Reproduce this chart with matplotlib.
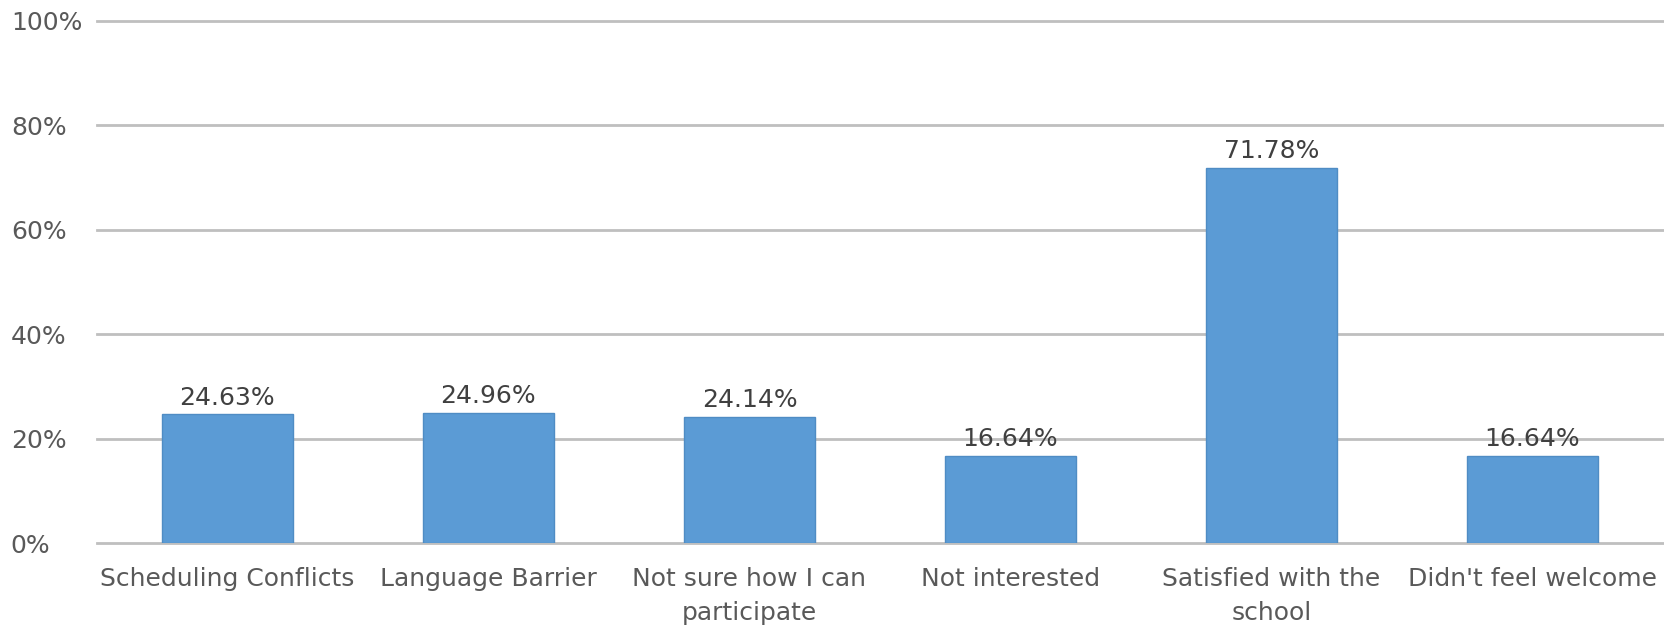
import matplotlib
matplotlib.use('Agg')
import matplotlib.pyplot as plt
from matplotlib.ticker import FixedLocator


categories = [
    'Scheduling Conflicts',
    'Language Barrier',
    'Not sure how I can\nparticipate',
    'Not interested',
    'Satisfied with the\nschool',
    "Didn't feel welcome",
]
values = [24.63, 24.96, 24.14, 16.64, 71.78, 16.64]
yticks = [0, 20, 40, 60, 80, 100]

plt.rcParams['font.family'] = ['DejaVu Sans']

fig = plt.figure(figsize=(16.65, 6.3), dpi=100)
ax = fig.add_axes([0.0582, 0.138, 0.9406, 0.8287])

x = list(range(len(categories)))
ax.bar(x, values, width=0.505, color='#5B9BD5', edgecolor='#4F8CC4',
       linewidth=1, zorder=3)

for xi, v in zip(x, values):
    ax.annotate(f'{v:.2f}%', (xi, v), xytext=(0, 3.5), textcoords='offset points',
                ha='center', va='bottom', fontsize=18, color='#404040', zorder=4)

ax.set_xlim(-0.5, len(categories) - 0.5)
ax.set_ylim(0, 100)
ax.yaxis.set_major_locator(FixedLocator(yticks))
ax.set_yticklabels([f'{t}%' for t in yticks])
ax.grid(True, 'major', 'y', color='#BFBFBF', linewidth=2, zorder=0)
for gl in ax.get_ygridlines():
    gl.set_clip_on(False)

ax.set_xticks(x)
ax.set_xticklabels(categories, linespacing=1.55)

for s in ax.spines.values():
    s.set_visible(False)

ax.tick_params('both', length=0, labelsize=18, labelcolor='#595959')
ax.tick_params('y', pad=62)
ax.tick_params('x', pad=17)
for lbl in ax.get_yticklabels():
    lbl.set_horizontalalignment('left')

plt.savefig('out.png', dpi=100)
plt.close()
